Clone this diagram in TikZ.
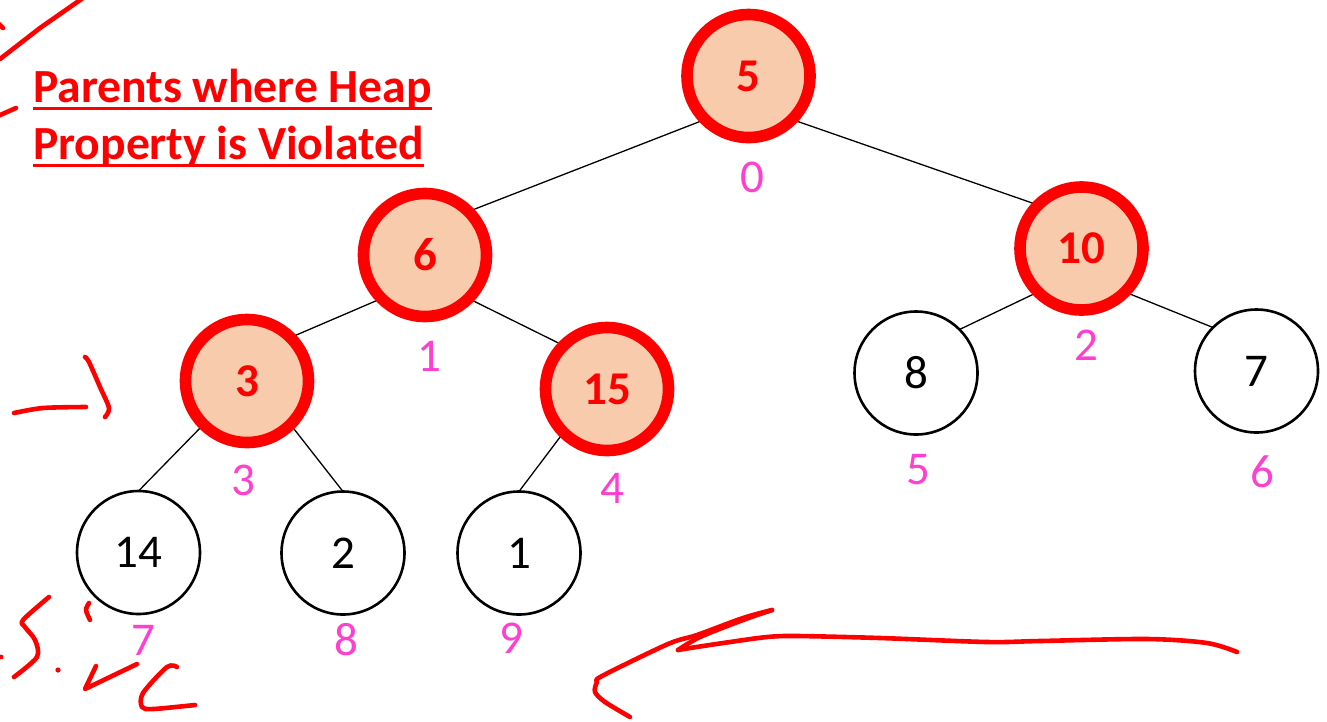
\documentclass[tikz,border=0pt]{standalone}
\usepackage{fontspec}
\setmainfont{Carlito}
\usetikzlibrary{backgrounds}
\definecolor{ink}{HTML}{FF0000}
\definecolor{peach}{HTML}{F8CBAD}
\definecolor{idx}{HTML}{FF3FD0}
\tikzset{
  heapnode/.style={circle, draw=black, line width=2.6pt, minimum size=123pt,
    inner sep=0pt, outer sep=0pt, font=\fontsize{47}{56}\selectfont},
  badnode/.style={heapnode, draw=ink, fill=peach, line width=11.6pt,
    text=ink, font=\fontsize{47}{56}\selectfont\bfseries},
  index/.style={text=idx, inner sep=0pt, font=\fontsize{47}{56}\selectfont},
  edge/.style={draw=black, line width=1.3pt},
  title/.style={text=ink, inner sep=0pt, anchor=base west,
    font=\fontsize{47.6}{56}\selectfont\bfseries},
  uline/.style={draw=ink, line width=3pt},
  pen/.style={draw=ink, line width=4.6pt, line cap=round, line join=round},
}
\begin{document}
\begin{tikzpicture}[x=1pt, y=-1pt]
\useasboundingbox (0,0) rectangle (1327,721);
\clip (0,0) rectangle (1327,721);

% heap nodes
\node[badnode] (n0) at (748.5,76) {5};
\node[badnode] (n1) at (425,255) {6};
\node[badnode] (n2) at (1081.5,248.5) {10};
\node[badnode] (n3) at (247,381) {3};
\node[badnode] (n4) at (607,389) {15};
\node[heapnode] (n5) at (916,373) {8};
\node[heapnode] (n6) at (1256.5,371) {7};
\node[heapnode] (n7) at (138.5,552.5) {14};
\node[heapnode] (n8) at (343,553) {2};
\node[heapnode] (n9) at (519,553) {1};

% white page, then parent-child links behind the nodes
\begin{scope}[on background layer]
\fill[white] (0,0) rectangle (1327,721);
\draw[edge] (n0.south west) -- (n1.north east);
\draw[edge] (n0.south east) -- (n2.north west);
\draw[edge] (n1.south west) -- (n3.north east);
\draw[edge] (n1.south east) -- (n4.north west);
\draw[edge] (n2.south west) -- (n5.north east);
\draw[edge] (n2.south east) -- (n6.north west);
\draw[edge] (n3.south west) -- (n7.north);
\draw[edge] (n3.south east) -- (n8.north);
\draw[edge] (n4.south west) -- (n9.north);
\end{scope}

% array indices
\node[index] (i0) at (752,177) {0};
\node[index] (i1) at (429,356) {1};
\node[index] (i2) at (1086,345) {2};
\node[index] (i3) at (243,480) {3};
\node[index] (i4) at (612,488) {4};
\node[index] (i5) at (918,470) {5};
\node[index] (i6) at (1262,472) {6};
\node[index] (i7) at (143,640) {7};
\node[index] (i8) at (346,640) {8};
\node[index] (i9) at (511,638) {9};

% heading
\node[title] (t1) at (33,102) {Parents where Heap};
\node[title] (t2) at (33,159) {Property is Violated};
\draw[uline] ([yshift=-6pt]t1.base west) -- ([yshift=-6pt]t1.base east);
\draw[uline] ([yshift=-6pt]t2.base west) -- ([yshift=-6pt]t2.base east);

% pen annotations, top left
\draw[pen] (83,-2) -- (40,28) -- (0,59);
\draw[pen] (-2,23) -- (3,28);
\draw[pen] (-2,116) -- (16,108);

% pen annotation, left arrow
\draw[pen] plot[smooth] coordinates {(14,413) (43,408) (86,407)};
\draw[pen] plot[smooth] coordinates {(85,357) (89,362) (100,387) (109,408) (105,417)};

% pen annotation, bottom left scribble
\draw[pen] plot[smooth] coordinates {(49,597) (23,620) (25,627) (35,640) (37,657) (14,677)};
\fill[ink] (1,657) circle (2.4pt);
\fill[ink] (58,670) circle (2.6pt);
\draw[pen] plot[smooth] coordinates {(89,603) (86,610) (90,620)};
\draw[pen] (96,666) -- (85,689) -- (137,664);
\draw[pen] plot[smooth] coordinates {(177,667) (167,667) (143,693) (142,707) (153,709) (195,705)};

% pen annotation, long arrow at the bottom
\draw[pen] plot[smooth] coordinates {(630,717) (605,702) (595,692) (597,682) (602,676) (668,644) (697,635) (743,618) (772,610)};
\draw[pen] plot[smooth] coordinates {(772,610) (743,620) (700,637) (678,650)};
\draw[pen] plot[smooth] coordinates {(678,650) (690,648) (730,642) (767,637) (797,636) (880,638) (987,642) (1040,641) (1147,639) (1207,643) (1237,652)};
\end{tikzpicture}
\end{document}
